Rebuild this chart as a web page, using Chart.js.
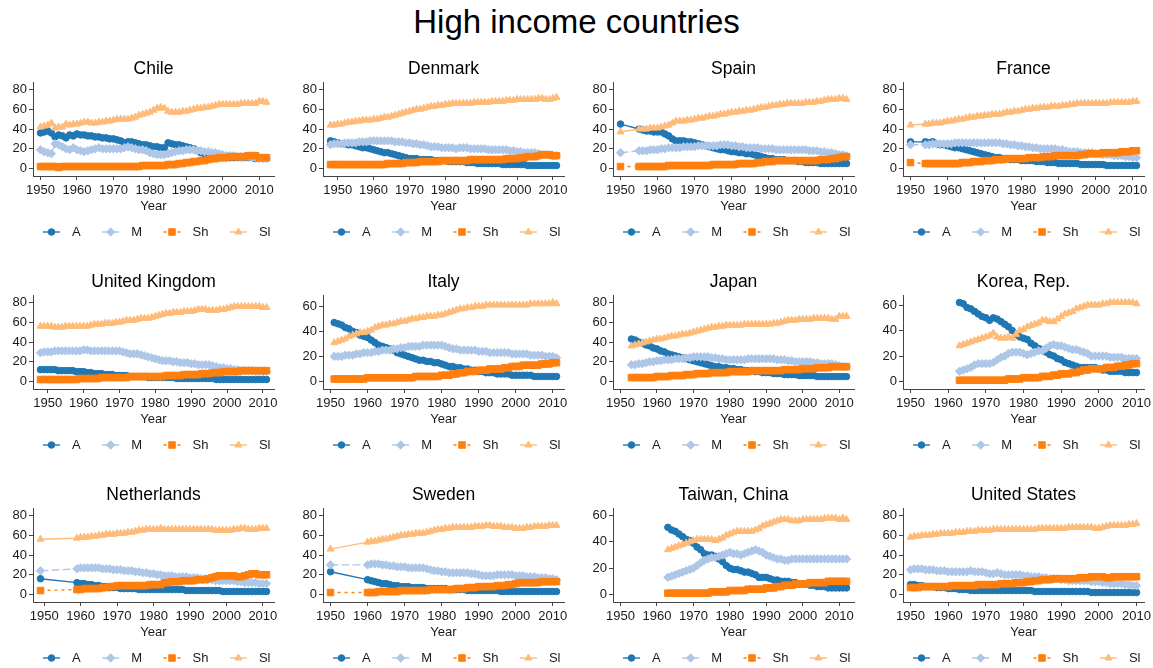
<!DOCTYPE html>
<html lang="en">
<head>
<meta charset="utf-8">
<title>High income countries</title>
<script src="https://cdn.jsdelivr.net/npm/chart.js@4.4.1/dist/chart.umd.min.js"></script>
<style>
  html, body { margin: 0; background: #fff; }
  #page { position: relative; width: 1153px; height: 668px; overflow: hidden; font-family: Arial, "Liberation Sans", sans-serif; }
  #page h1 { position: absolute; left: 0; top: 0; width: 1153px; margin: 0; text-align: center; font-weight: normal; font-size: 33px; line-height: 44px; color: #000; }
  #page canvas { position: absolute; }
</style>
</head>
<body>
<div id="page"><h1>High income countries</h1></div>
<script>
const countries = ['Chile', 'Denmark', 'Spain', 'France', 'United Kingdom', 'Italy', 'Japan', 'Korea, Rep.', 'Netherlands', 'Sweden', 'Taiwan, China', 'United States'];
const firstYears = [1950, 1948, 1950, 1950, 1948, 1951, 1953, 1963, 1949, 1950, 1963, 1950];
const seriesNames = ['A', 'M', 'Sh', 'Sl'];
const yearTicks = [1950, 1960, 1970, 1980, 1990, 2000, 2010];
const shareTicks80 = [0, 20, 40, 60, 80];
const shareTicks60 = [0, 20, 40, 60];
const na = null;

// employment shares (%), one value per year from the country's first year
const chileA = [36,37,38,36,32,34,33,31,34,33, 35,34,34,33,33,32,32,31,31,30, 30,29,28,26,27,27,26,25,24,24, 23,22,22,21,21,26,25,24,24,23, 22,21,20,18,16,15,13,12,11,11, 11,11,11,11,11,11,11,11,11,10, 10,10,10];
const chileM = [19,17,16,15,25,24,22,20,19,21, 19,18,17,18,19,20,21,20,20,20, 20,20,20,21,22,21,20,19,19,18, 16,15,14,14,14,15,16,17,18,18, 19,19,19,18,18,17,17,16,16,15, 14,13,13,13,12,12,12,12,11,11, 10,10,10];
const chileSh = [2,2,2,2,2,1,2,2,2,2, 2,2,2,2,2,2,2,2,2,2, 2,2,2,2,2,2,2,2,3,3, 3,3,3,3,3,4,4,4,5,5, 6,6,7,7,8,8,9,10,10,11, 11,11,12,12,12,12,12,13,13,13, 11,11,11];
const chileSl = [42,43,44,46,41,42,42,45,44,45, 45,46,47,47,46,46,47,47,48,48, 49,50,50,50,50,51,52,54,55,56, 57,59,61,62,61,58,57,57,57,58, 58,59,60,61,61,62,62,63,64,65, 65,65,65,65,65,66,66,66,66,66, 68,68,67];

const denmarkA = [28,27,26,25,25,24,24,23,22,21, 21,20,19,18,17,16,16,15,14,13, 12,11,10,10,10,9,9,9,9,8, 8,8,8,7,7,7,7,7,6,6, 6,5,5,5,5,5,5,5,4,4, 4,4,4,4,4,3,3,3,3,3, 3,3,3,3];
const denmarkM = [24,25,25,25,26,26,26,26,27,27, 27,28,28,28,28,28,28,28,27,27, 27,26,26,25,25,24,24,23,22,22, 22,21,21,21,21,20,21,21,21,20, 20,20,20,20,19,19,19,19,19,19, 18,18,17,17,16,16,16,16,15,14, 14,14,13,13];
const denmarkSh = [4,4,4,4,4,4,4,4,4,4, 4,4,4,4,4,4,5,5,5,5, 5,6,6,6,6,7,7,7,7,7, 7,8,8,8,8,8,8,8,8,9, 9,9,9,9,9,9,9,9,9,10, 10,10,10,11,11,12,12,12,13,14, 14,14,13,13];
const denmarkSl = [44,44,45,45,46,47,47,48,48,49, 49,49,50,50,51,52,52,53,54,55, 56,57,58,59,60,60,61,62,63,63, 64,64,65,65,66,66,66,66,66,66, 67,67,67,67,67,68,68,68,68,69, 69,69,70,70,70,70,70,70,71,71, 70,70,71,72];

const spainA = [45,na,na,na,na,40,39,38,38,37, 37,37,35,33,30,28,28,28,27,27, 26,25,24,23,22,21,20,19,19,18, 17,17,16,16,15,15,14,13,12,11, 10,10,9,9,9,8,8,8,7,7, 6,6,6,6,5,5,5,5,5,5, 5,5];
const spainM = [16,na,na,na,na,18,18,18,19,19, 19,20,20,21,21,21,21,22,22,22, 22,23,23,23,23,23,23,24,24,24, 23,23,22,22,21,21,21,21,20,20, 20,20,19,19,19,19,19,19,19,19, 19,18,18,18,17,17,16,16,15,14, 14,13];
const spainSh = [2,na,na,na,na,2,2,2,2,2, 2,2,2,3,3,3,3,3,3,3, 3,3,3,3,3,4,4,4,4,4, 4,4,5,5,5,5,5,6,6,7, 7,7,8,8,8,8,8,8,8,8, 8,8,8,8,9,9,9,10,10,11, 12,12];
const spainSl = [37,na,na,na,na,40,40,40,41,41, 41,42,43,44,46,48,48,48,49,49, 50,51,51,52,53,53,54,55,55,56, 57,57,58,58,59,59,60,61,62,62, 63,64,64,65,65,66,66,66,66,66, 67,67,67,68,68,69,70,70,70,71, 71,70];

const franceA = [27,na,na,na,27,26,27,25,24,24, 23,22,21,21,20,19,18,17,16,15, 14,13,12,11,11,10,10,9,9,9, 8,8,8,8,7,7,7,6,6,6, 5,5,5,5,5,5,4,4,4,4, 4,4,4,3,3,3,3,3,3,3, 3,3];
const franceM = [24,na,na,na,24,24,25,25,25,25, 25,25,26,26,26,26,26,26,26,26, 26,26,26,26,26,25,25,24,24,23, 23,22,22,21,21,20,20,20,20,20, 19,19,18,17,17,17,16,16,16,16, 15,15,14,14,14,13,13,13,12,12, 11,11];
const franceSh = [6,na,na,na,5,5,5,5,5,5, 5,5,5,5,6,6,6,7,7,7, 8,8,8,9,9,9,10,10,10,10, 10,10,11,11,11,11,12,12,12,13, 13,13,13,13,13,13,14,14,15,15, 15,15,16,16,16,16,16,17,17,17, 18,18];
const franceSl = [44,na,na,na,45,45,46,46,46,47, 48,48,49,50,50,51,52,52,53,53, 54,54,55,55,55,56,57,57,58,58, 59,60,60,61,61,62,62,62,63,63, 63,64,64,65,65,66,66,66,66,66, 66,66,66,66,67,67,67,67,67,67, 68,68];

const ukA = [12,12,12,12,12,11,11,11,11,11, 10,10,10,9,9,8,8,8,7,7, 7,6,6,6,6,5,5,5,5,5, 4,4,4,4,4,4,4,4,3,3, 3,3,3,3,3,3,3,3,3,2, 2,2,2,2,2,2,2,2,2,2, 2,2,2,2];
const ukM = [29,30,30,30,31,31,31,31,31,31, 31,31,32,32,31,31,31,31,31,31, 31,31,31,30,29,28,28,28,27,26, 25,24,23,22,21,21,21,20,20,19, 19,19,18,18,17,17,17,17,16,15, 14,14,13,13,12,12,11,11,11,11, 10,10,10,10];
const ukSh = [2,2,2,2,2,2,2,2,2,2, 2,3,3,3,3,3,3,4,4,4, 4,4,4,4,4,5,5,5,5,5, 5,5,5,5,5,6,6,6,6,6, 7,7,7,7,7,8,8,8,9,9, 9,10,10,10,10,10,11,11,11,11, 11,11,11,11];
const ukSl = [56,56,56,56,55,55,55,56,56,56, 56,56,56,56,57,58,58,58,59,59, 59,60,60,61,62,62,62,63,64,64, 64,65,66,67,68,69,69,70,70,70, 71,71,71,72,73,73,73,72,72,72, 73,73,74,75,76,76,76,76,76,76, 76,76,75,75];

const italyA = [47,46,45,43,42,40,39,37,36,35, 33,31,29,28,27,26,25,23,22,21, 20,19,18,17,17,16,16,15,15,14, 13,12,12,11,11,10,10,9,9,8, 8,7,7,7,6,6,6,6,5,5, 5,5,5,5,4,4,4,4,4,4, 4];
const italyM = [20,20,20,21,21,21,22,22,23,23, 23,24,24,25,25,25,26,26,27,27, 28,28,28,28,29,29,29,29,29,29, 28,27,26,26,25,25,25,25,25,24, 24,24,23,23,23,23,23,23,22,22, 22,22,22,21,21,21,21,20,20,20, 19];
const italySh = [2,2,2,2,2,2,2,2,2,3, 3,3,3,3,3,3,3,3,3,3, 3,3,4,4,4,4,4,4,4,5, 5,5,6,6,7,7,8,8,8,9, 9,9,10,10,10,10,11,11,12,12, 12,13,13,13,13,13,14,14,14,15, 15];
const italySl = [31,32,33,34,36,37,38,39,39,40, 41,43,44,45,45,46,46,47,48,48, 49,50,50,51,51,52,52,52,53,53, 54,55,56,57,58,58,59,59,60,60, 60,61,61,61,61,61,61,61,61,61, 61,61,61,62,62,62,62,62,62,63, 62];

const japanA = [43,42,40,39,37,36,34,33,31,30, 28,27,26,25,24,23,22,21,20,19, 18,17,16,15,15,14,14,13,13,12, 12,11,11,11,10,10,9,9,9,8, 8,8,7,7,7,7,6,6,6,6, 6,5,5,5,5,5,5,5,5,5];
const japanM = [17,17,18,18,19,20,20,21,21,22, 22,22,23,23,23,24,24,25,25,25, 25,25,24,24,23,23,22,22,22,22, 22,22,23,23,23,23,23,23,23,23, 22,22,22,21,21,20,20,20,20,20, 19,19,18,18,18,18,17,16,15,15];
const japanSh = [4,4,4,4,4,4,4,5,5,5, 5,6,6,6,6,7,7,7,8,8, 8,8,9,9,9,9,9,10,10,10, 10,10,10,11,11,11,11,11,11,11, 11,11,12,12,12,12,12,13,13,13, 13,14,14,14,14,15,15,15,15,15];
const japanSl = [36,37,38,39,40,41,42,43,43,44, 45,46,46,47,48,48,49,50,51,52, 53,54,55,55,56,56,57,57,57,57, 57,58,58,58,58,58,58,58,58,59, 59,60,61,62,62,62,63,63,63,63, 64,64,64,64,64,63,63,66,66,66];

const koreaA = [62,61,58,57,55,53,51,50,48,50, 49,47,45,43,40,37,35,34,33,30, 28,26,25,23,21,20,18,17,15,14, 13,12,11,11,11,11,11,10,9,9, 8,8,8,8,7,7,7,7];
const koreaM = [8,9,10,11,13,14,14,14,14,15, 17,19,20,22,23,23,23,22,21,22, 23,24,24,26,28,29,28,28,27,26, 25,25,24,23,22,20,20,20,20,20, 19,19,19,19,18,18,18,18];
const koreaSh = [1,1,1,1,1,1,1,1,1,1, 1,1,1,2,2,2,2,3,3,3, 3,3,4,4,4,5,5,6,6,6, 7,7,8,9,9,10,10,10,10,11, 11,11,12,12,13,13,14,14];
const koreaSl = [28,29,30,31,32,33,34,35,36,38, 35,34,34,35,34,37,40,41,43,44, 45,46,48,48,47,47,49,51,53,54, 55,57,58,59,60,60,60,60,61,61, 62,62,62,62,62,62,62,61];

const netherlandsA = [16,na,na,na,na,na,na,na,na,na, 12,11,11,10,10,9,9,8,8,7, 7,7,6,6,6,6,6,5,5,5, 5,5,5,5,5,5,5,5,5,5, 4,4,4,4,4,4,4,4,4,4, 3,3,3,3,3,3,3,3,3,3, 3,3,3];
const netherlandsM = [24,na,na,na,na,na,na,na,na,na, 26,27,27,27,27,27,27,26,26,26, 25,25,25,24,24,24,23,23,22,22, 21,21,20,20,19,19,19,18,18,18, 18,17,17,17,16,16,15,15,14,14, 14,14,14,14,13,13,12,12,12,12, 11,11,11];
const netherlandsSh = [4,na,na,na,na,na,na,na,na,na, 5,5,6,6,6,6,6,7,7,8, 8,9,9,9,9,9,9,9,9,9, 10,10,10,10,12,12,13,13,13,14, 14,14,14,15,15,15,16,17,18,19, 19,19,19,19,18,18,19,20,21,21, 20,20,20];
const netherlandsSl = [56,na,na,na,na,na,na,na,na,na, 57,58,58,58,59,59,60,60,61,61, 61,62,62,62,63,63,64,65,65,66, 66,66,66,67,66,66,66,66,66,66, 66,66,66,66,66,66,66,66,65,65, 65,65,65,66,66,67,67,66,66,66, 67,67,67];

const swedenA = [23,na,na,na,na,na,na,na,na,na, 15,14,13,12,11,11,10,9,9,8, 8,8,7,7,7,7,6,6,6,6, 6,6,5,5,5,5,5,4,4,4, 4,4,4,4,4,4,3,3,3,3, 3,3,3,3,3,3,3,3,3,3, 3,3];
const swedenM = [30,na,na,na,na,na,na,na,na,na, 30,31,31,31,30,30,29,29,28,28, 28,27,27,27,27,27,26,25,24,24, 23,23,22,22,22,22,22,22,21,21, 20,19,19,19,19,20,20,20,20,20, 19,19,19,18,18,18,17,17,17,16, 16,15];
const swedenSh = [2,na,na,na,na,na,na,na,na,na, 2,2,2,3,3,3,3,3,3,4, 4,4,4,4,4,4,4,5,5,5, 5,5,5,5,6,6,6,7,7,7, 8,8,8,8,8,9,9,9,10,10, 11,12,12,12,12,12,12,13,13,13, 13,13];
const swedenSl = [46,na,na,na,na,na,na,na,na,na, 53,54,54,55,56,56,57,58,59,60, 60,61,61,62,62,62,63,64,65,66, 66,67,67,68,68,68,68,68,68,69, 69,69,70,70,69,69,69,68,68,68, 67,67,67,68,68,69,69,69,69,70, 70,70];

const taiwanA = [51,49,48,46,44,42,41,39,36,34, 31,30,30,29,27,25,22,20,19,19, 18,17,17,16,15,13,13,13,12,11, 11,10,10,10,9,9,8,8,8,7, 7,6,6,6,5,5,5,5,5,5];
const taiwanM = [13,14,15,16,17,18,19,20,22,24, 26,27,28,28,29,30,31,32,31,31, 30,31,32,33,34,33,32,30,29,28, 27,27,26,26,27,27,27,27,27,27, 27,27,27,27,27,27,27,27,27,27];
const taiwanSh = [1,1,1,1,1,1,1,1,1,1, 1,1,2,2,2,2,2,3,3,3, 3,3,4,4,4,4,4,5,5,5, 6,6,7,7,7,8,8,8,8,9, 9,9,9,9,10,10,10,10,10,10];
const taiwanSl = [34,35,36,37,38,39,40,41,42,42, 42,42,42,41,42,43,45,46,47,48, 48,48,48,48,49,50,52,53,54,55, 56,57,57,57,56,56,56,57,57,57, 57,57,57,58,58,58,58,57,58,57];

const usA = [10,10,9,9,8,8,8,7,7,7, 6,6,6,5,5,5,4,4,4,4, 4,4,4,4,4,4,4,4,4,4, 4,4,4,3,3,3,3,3,3,3, 3,3,3,3,3,3,3,3,2,2, 2,2,2,2,2,2,2,2,2,2, 2];
const usM = [25,26,26,26,25,25,25,24,24,24, 23,23,23,23,23,23,24,23,23,23, 22,21,21,22,21,20,20,20,20,20, 19,19,18,18,18,17,17,16,16,16, 15,15,14,14,14,14,14,14,13,13, 13,12,12,11,11,11,11,10,10,9, 9];
const usSh = [7,7,7,8,8,8,8,8,8,8, 8,9,9,9,9,9,9,9,10,10, 10,10,10,10,11,11,11,11,12,12, 12,13,13,14,14,15,15,15,16,16, 16,16,16,16,16,17,17,17,18,18, 18,18,17,17,18,18,18,18,18,18, 18];
const usSl = [58,59,59,60,60,60,61,61,62,62, 62,62,63,63,63,64,64,64,65,65, 65,65,66,66,66,66,66,66,66,66, 66,66,66,66,67,67,67,67,67,67, 67,67,68,68,68,68,68,68,68,67, 67,68,69,70,70,70,70,70,71,71, 72];

const countrySeries = [
  [chileA, chileM, chileSh, chileSl],
  [denmarkA, denmarkM, denmarkSh, denmarkSl],
  [spainA, spainM, spainSh, spainSl],
  [franceA, franceM, franceSh, franceSl],
  [ukA, ukM, ukSh, ukSl],
  [italyA, italyM, italySh, italySl],
  [japanA, japanM, japanSh, japanSl],
  [koreaA, koreaM, koreaSh, koreaSl],
  [netherlandsA, netherlandsM, netherlandsSh, netherlandsSl],
  [swedenA, swedenM, swedenSh, swedenSl],
  [taiwanA, taiwanM, taiwanSh, taiwanSl],
  [usA, usM, usSh, usSl]
];
const countryTicks = [shareTicks80, shareTicks80, shareTicks80, shareTicks80, shareTicks80, shareTicks60,
                      shareTicks80, shareTicks60, shareTicks80, shareTicks80, shareTicks60, shareTicks80];

// look of each series
const colors = ['#1f77b4', '#aec7e8', '#ff7f0e', '#ffbb78'];
const markers = ['circle', 'rectRot', 'rect', 'triangle'];
const markerRadius = [3.3, 4.2, 4.6, 4];
const dashes = [[], [8, 3], [3, 4], []];

const FONT = 'Arial, "Liberation Sans", sans-serif';
const AXIS = '#444';
const INK = '#1a1a1a';
const PANEL_W = 290, PANEL_H = 213;
const PLOT_TOP = 35, PLOT_RIGHT = 16, XAXIS_H = 30, BOTTOM_ROOM = 54;

function drawMarker(ctx, style, x, y, r) {
  ctx.beginPath();
  if (style === 'circle') {
    ctx.arc(x, y, r, 0, Math.PI * 2);
  } else if (style === 'rectRot') {
    ctx.moveTo(x, y - r); ctx.lineTo(x + r, y); ctx.lineTo(x, y + r); ctx.lineTo(x - r, y);
  } else if (style === 'rect') {
    const s = r * Math.SQRT1_2;
    ctx.rect(x - s, y - s, 2 * s, 2 * s);
  } else {
    const h = r * 1.5, w = r * 0.87;
    ctx.moveTo(x, y - h * 0.66); ctx.lineTo(x + w, y + h * 0.34); ctx.lineTo(x - w, y + h * 0.34);
  }
  ctx.closePath();
  ctx.fill();
  ctx.stroke();
}

// panel title, "Year" axis title and the key below each small chart
const panelText = {
  id: 'panelText',
  afterDraw(chart, args, opts) {
    const { ctx, chartArea } = chart;
    const cx = (chartArea.left + chartArea.right) / 2;
    ctx.save();
    ctx.fillStyle = '#000';
    ctx.textAlign = 'center';
    ctx.textBaseline = 'middle';
    ctx.font = '17.5px ' + FONT;
    ctx.fillText(opts.title, cx, 22.5);
    ctx.fillStyle = INK;
    ctx.font = '13px ' + FONT;
    ctx.fillText('Year', cx, chartArea.bottom + 30);

    let x = chartArea.left + 10;
    const y = chartArea.bottom + 56;
    ctx.textAlign = 'left';
    seriesNames.forEach((name, i) => {
      ctx.strokeStyle = colors[i];
      ctx.lineWidth = 1.4;
      ctx.setLineDash(dashes[i]);
      ctx.beginPath();
      ctx.moveTo(x, y);
      ctx.lineTo(x + 17, y);
      ctx.stroke();
      ctx.setLineDash([]);
      ctx.fillStyle = colors[i];
      ctx.lineWidth = 1;
      drawMarker(ctx, markers[i], x + 8.5, y, markerRadius[i]);
      ctx.fillStyle = INK;
      ctx.fillText(name, x + 29, y);
      x += 29 + ctx.measureText(name).width + 21.5;
    });
    ctx.restore();
  }
};

function paddedRange(lo, hi, frac) {
  const p = (hi - lo) * frac;
  return [lo - p, hi + p];
}

const page = document.getElementById('page');

countries.forEach((name, c) => {
  const series = countrySeries[c];
  const start = firstYears[c];
  const ticks = countryTicks[c];

  const canvas = document.createElement('canvas');
  canvas.width = PANEL_W;
  canvas.height = PANEL_H;
  canvas.style.left = (c % 4) * PANEL_W + 'px';
  canvas.style.top = 47 + Math.floor(c / 4) * PANEL_H + 'px';
  page.appendChild(canvas);

  const lastYear = start + series[0].length - 1;
  const xr = paddedRange(Math.min(start, yearTicks[0]), Math.max(lastYear, yearTicks[yearTicks.length - 1]), 7.5 / 226);
  const all = series.flat().filter(v => v !== null);
  const yr = paddedRange(Math.min(0, ...all), Math.max(ticks[ticks.length - 1], ...all), 7.5 / 79);

  const datasets = series.map((vals, i) => ({
    label: seriesNames[i],
    data: vals.map((v, j) => ({ x: start + j, y: v })),
    borderColor: colors[i],
    backgroundColor: colors[i],
    borderWidth: 1.4,
    borderDash: dashes[i],
    pointStyle: markers[i],
    pointRadius: markerRadius[i],
    pointBorderWidth: 1,
    pointBorderColor: colors[i],
    pointBackgroundColor: colors[i],
    spanGaps: true,
    tension: 0,
    order: 4 - i
  }));

  const axisGrid = { display: true, drawOnChartArea: false, drawTicks: true, tickLength: 4, color: AXIS, lineWidth: 1 };

  new Chart(canvas, {
    type: 'line',
    data: { datasets },
    options: {
      responsive: false,
      animation: false,
      devicePixelRatio: 1,
      events: [],
      layout: { padding: { top: PLOT_TOP, right: PLOT_RIGHT, bottom: BOTTOM_ROOM, left: 0 } },
      plugins: {
        legend: { display: false },
        tooltip: { enabled: false },
        title: { display: false },
        panelText: { title: name }
      },
      scales: {
        x: {
          type: 'linear',
          min: xr[0],
          max: xr[1],
          afterBuildTicks: ax => { ax.ticks = yearTicks.map(v => ({ value: v })); },
          afterFit: ax => { ax.height = XAXIS_H; },
          grid: axisGrid,
          border: { display: true, color: AXIS, width: 1 },
          ticks: { color: INK, font: { size: 13, family: FONT }, padding: 3, maxRotation: 0, autoSkip: false, callback: v => String(v) }
        },
        y: {
          type: 'linear',
          min: yr[0],
          max: yr[1],
          afterBuildTicks: ax => { ax.ticks = ticks.map(v => ({ value: v })); },
          afterFit: ax => { ax.width = 33; },
          grid: axisGrid,
          border: { display: true, color: AXIS, width: 1 },
          ticks: { color: INK, font: { size: 13, family: FONT }, padding: 2, autoSkip: false, callback: v => String(v) }
        }
      }
    },
    plugins: [panelText]
  });
});
</script>
</body>
</html>
